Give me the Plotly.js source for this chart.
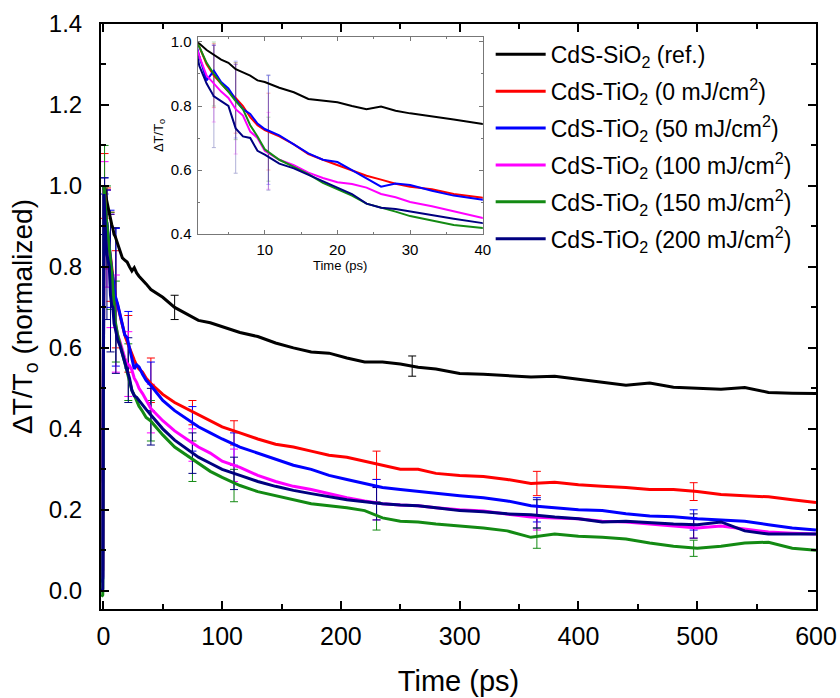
<!DOCTYPE html>
<html>
<head>
<meta charset="utf-8">
<script src="https://cdn.plot.ly/plotly-3.0.1.min.js"></script>
<style>html,body{margin:0;padding:0;background:#fff;}#chart{width:840px;height:698px;}</style>
</head>
<body>
<div id="chart"></div>
<script>
// ---------------- DATA ----------------
const seriesNames = [
  'CdS-SiO<sub>2</sub> (ref.)',
  'CdS-TiO<sub>2</sub> (0 mJ/cm<sup>2</sup>)',
  'CdS-TiO<sub>2</sub> (50 mJ/cm<sup>2</sup>)',
  'CdS-TiO<sub>2</sub> (100 mJ/cm<sup>2</sup>)',
  'CdS-TiO<sub>2</sub> (150 mJ/cm<sup>2</sup>)',
  'CdS-TiO<sub>2</sub> (200 mJ/cm<sup>2</sup>)'
];
const seriesColors = ['#000000', '#ff0000', '#0000ff', '#ff00ff', '#138a13', '#000080'];

const time = [-1.5, -0.5, 0.5, 1, 2, 3, 4, 5, 6, 7, 8, 9, 10, 12, 14, 16, 18, 20, 22, 24, 26, 28, 30, 33, 36, 40,
  50, 60, 70, 80, 90, 100, 115, 130, 145, 160, 175, 190, 205, 220, 235, 250, 265, 280, 300, 320, 340, 360, 380,
  400, 420, 440, 460, 480, 500, 520, 540, 560, 580, 600];

const sio2Ref = [0.27, 0.27, 1.0, 0.995, 0.975, 0.96, 0.945, 0.935, 0.915, 0.905, 0.895, 0.88, 0.875, 0.857, 0.843, 0.822, 0.817, 0.812, 0.80, 0.79, 0.798, 0.785, 0.777, 0.768, 0.758, 0.744,
  0.725, 0.70, 0.685, 0.668, 0.662, 0.652, 0.638, 0.628, 0.612, 0.60, 0.59, 0.587, 0.575, 0.565, 0.565, 0.56, 0.552, 0.548, 0.537, 0.535, 0.532, 0.528, 0.53,
  0.522, 0.515, 0.508, 0.513, 0.503, 0.50, 0.498, 0.502, 0.49, 0.488, 0.487];

const tio2_0 = [0.06, 0.05, 1.0, 0.985, 0.93, 0.895, 0.87, 0.845, 0.825, 0.80, 0.765, 0.74, 0.725, 0.705, 0.68, 0.65, 0.632, 0.615, 0.60, 0.582, 0.57, 0.557, 0.548, 0.54, 0.525, 0.512,
  0.485, 0.465, 0.45, 0.435, 0.42, 0.405, 0.39, 0.375, 0.362, 0.355, 0.345, 0.335, 0.33, 0.32, 0.31, 0.30, 0.30, 0.29, 0.285, 0.282, 0.275, 0.265, 0.268,
  0.262, 0.258, 0.255, 0.25, 0.25, 0.245, 0.238, 0.235, 0.232, 0.225, 0.218];

const tio2_50 = [0.02, 0.03, 1.0, 0.955, 0.88, 0.91, 0.875, 0.855, 0.82, 0.79, 0.775, 0.745, 0.728, 0.708, 0.68, 0.652, 0.632, 0.625, 0.60, 0.575, 0.548, 0.558, 0.553, 0.535, 0.52, 0.507,
  0.47, 0.445, 0.425, 0.405, 0.39, 0.375, 0.355, 0.34, 0.325, 0.31, 0.30, 0.285, 0.275, 0.265, 0.255, 0.25, 0.245, 0.24, 0.235, 0.23, 0.222, 0.21, 0.205,
  0.20, 0.198, 0.19, 0.185, 0.183, 0.178, 0.175, 0.172, 0.163, 0.155, 0.15];

const tio2_100 = [0.03, 0.035, 0.99, 0.955, 0.895, 0.87, 0.845, 0.825, 0.79, 0.77, 0.72, 0.70, 0.66, 0.632, 0.615, 0.592, 0.575, 0.562, 0.556, 0.545, 0.525, 0.515, 0.50, 0.487, 0.472, 0.45,
  0.42, 0.395, 0.375, 0.355, 0.34, 0.32, 0.305, 0.285, 0.27, 0.258, 0.25, 0.24, 0.23, 0.222, 0.215, 0.212, 0.21, 0.205, 0.20, 0.197, 0.19, 0.182, 0.18,
  0.178, 0.172, 0.17, 0.165, 0.16, 0.155, 0.16, 0.152, 0.145, 0.142, 0.14];

const tio2_150 = [-0.015, -0.01, 1.0, 0.985, 0.935, 0.90, 0.87, 0.845, 0.815, 0.79, 0.74, 0.705, 0.665, 0.632, 0.61, 0.587, 0.56, 0.54, 0.52, 0.495, 0.483, 0.47, 0.456, 0.443, 0.428, 0.419,
  0.385, 0.355, 0.335, 0.315, 0.295, 0.28, 0.26, 0.245, 0.235, 0.225, 0.215, 0.21, 0.205, 0.198, 0.18, 0.172, 0.17, 0.165, 0.16, 0.155, 0.148, 0.132, 0.14,
  0.135, 0.132, 0.128, 0.118, 0.11, 0.105, 0.11, 0.118, 0.12, 0.105, 0.10];

const tio2_200 = [0.0, 0.005, 0.98, 0.925, 0.87, 0.83, 0.815, 0.80, 0.73, 0.705, 0.70, 0.66, 0.648, 0.62, 0.605, 0.585, 0.565, 0.545, 0.525, 0.495, 0.482, 0.478, 0.47, 0.458, 0.448, 0.434,
  0.40, 0.372, 0.35, 0.33, 0.315, 0.30, 0.285, 0.27, 0.258, 0.248, 0.24, 0.232, 0.225, 0.22, 0.215, 0.212, 0.21, 0.205, 0.198, 0.195, 0.19, 0.188, 0.182,
  0.178, 0.17, 0.172, 0.168, 0.165, 0.163, 0.17, 0.148, 0.14, 0.14, 0.14];

// error bars (time, centre value, half-width)
const errTimeRef = [60, 260];
const errValRef  = [0.70, 0.555];
const errSizeRef = [0.03, 0.025];

const errTime = [1, 3, 6, 10.5, 21, 40, 75, 110, 230, 365, 497];
const errVal_0   = [1.0, 0.895, 0.825, 0.72, 0.61, 0.52, 0.44, 0.39, 0.31, 0.265, 0.245];
const errSize_0  = [0.08, 0.10, 0.11, 0.12, 0.07, 0.055, 0.03, 0.03, 0.035, 0.03, 0.022];
const errVal_50  = [1.0, 0.91, 0.82, 0.725, 0.62, 0.505, 0.40, 0.35, 0.245, 0.20, 0.175];
const errSize_50 = [0.02, 0.08, 0.12, 0.17, 0.07, 0.06, 0.055, 0.04, 0.03, 0.03, 0.025];
const errVal_100  = [0.98, 0.87, 0.79, 0.66, 0.56, 0.45, 0.36, 0.31, 0.215, 0.18, 0.155];
const errSize_100 = [0.08, 0.12, 0.14, 0.12, 0.08, 0.06, 0.04, 0.04, 0.04, 0.03, 0.025];
const errVal_150  = [1.0, 0.90, 0.815, 0.665, 0.54, 0.42, 0.32, 0.26, 0.185, 0.13, 0.105];
const errSize_150 = [0.10, 0.10, 0.12, 0.10, 0.07, 0.05, 0.05, 0.04, 0.035, 0.025, 0.02];
const errVal_200  = [0.95, 0.83, 0.76, 0.717, 0.545, 0.43, 0.34, 0.29, 0.215, 0.19, 0.16];
const errSize_200 = [0.07, 0.16, 0.17, 0.18, 0.08, 0.07, 0.05, 0.04, 0.04, 0.035, 0.03];

// ---------------- BUILD ----------------
const seriesValues = [sio2Ref, tio2_0, tio2_50, tio2_100, tio2_150, tio2_200];
const errSets = [
  [errTimeRef, errValRef, errSizeRef],
  [errTime, errVal_0, errSize_0],
  [errTime, errVal_50, errSize_50],
  [errTime, errVal_100, errSize_100],
  [errTime, errVal_150, errSize_150],
  [errTime, errVal_200, errSize_200]
];

const traces = [];
errSets.forEach((es, i) => {
  traces.push({
    x: es[0], y: es[1], type: 'scatter', mode: 'markers', xaxis: 'x', yaxis: 'y',
    marker: {size: 1, opacity: 0, color: seriesColors[i]},
    error_y: {type: 'data', array: es[2], visible: true, color: seriesColors[i], thickness: 1, width: 4},
    showlegend: false, hoverinfo: 'skip', legendgroup: 'g' + i
  });
});
seriesValues.forEach((vals, i) => {
  traces.push({
    x: time, y: vals, type: 'scatter', mode: 'lines', xaxis: 'x', yaxis: 'y',
    name: seriesNames[i], line: {color: seriesColors[i], width: 3},
    legendgroup: 'g' + i
  });
});
errSets.forEach((es, i) => {
  if (i === 0) return;
  const idx = es[0].map((t, k) => k).filter(k => es[0][k] <= 12 && es[0][k] >= 2);
  traces.push({
    x: idx.map(k => es[0][k]), y: idx.map(k => es[1][k]), type: 'scatter', mode: 'markers', xaxis: 'x2', yaxis: 'y2',
    marker: {size: 1, opacity: 0, color: seriesColors[i]},
    error_y: {type: 'data', array: idx.map(k => es[2][k]), visible: true, color: seriesColors[i], thickness: 1, width: 2},
    opacity: 0.3, showlegend: false, hoverinfo: 'skip', legendgroup: 'g' + i
  });
});
seriesValues.forEach((vals, i) => {
  traces.push({
    x: time, y: vals, type: 'scatter', mode: 'lines', xaxis: 'x2', yaxis: 'y2',
    line: {color: seriesColors[i], width: 2}, showlegend: false, hoverinfo: 'skip', legendgroup: 'g' + i
  });
});

const FONT = 'Liberation Sans, Arial, Helvetica, sans-serif';
const layout = {
  width: 840, height: 698,
  margin: {l: 101, r: 24, t: 24, b: 89},
  paper_bgcolor: '#ffffff', plot_bgcolor: '#ffffff',
  font: {family: FONT, color: '#000'},
  showlegend: true,
  legend: {x: 0.545, y: 0.985, xanchor: 'left', yanchor: 'top', font: {size: 23, family: FONT},
           bgcolor: 'rgba(0,0,0,0)', itemwidth: 50, tracegroupgap: 4, traceorder: 'grouped'},
  xaxis: {
    domain: [0, 1], range: [-2, 600], anchor: 'y',
    showline: true, linewidth: 2, linecolor: '#000', mirror: 'ticks',
    ticks: 'inside', ticklen: 8, tickwidth: 2, tickcolor: '#000', tick0: 0, dtick: 100,
    minor: {ticks: 'inside', ticklen: 5, tickwidth: 2, tickcolor: '#000', dtick: 50, showgrid: false},
    showgrid: false, zeroline: false, tickfont: {size: 25}, ticklabelstandoff: 4,
    title: {text: 'Time (ps)', font: {size: 29}, standoff: 22}
  },
  yaxis: {
    domain: [0, 1], range: [-0.045, 1.4], anchor: 'x',
    showline: true, linewidth: 2, linecolor: '#000', mirror: 'ticks',
    ticks: 'inside', ticklen: 8, tickwidth: 2, tickcolor: '#000', tick0: 0, dtick: 0.2, tickformat: '.1f',
    minor: {ticks: 'inside', ticklen: 5, tickwidth: 2, tickcolor: '#000', dtick: 0.1, showgrid: false},
    showgrid: false, zeroline: false, tickfont: {size: 24}, ticklabelstandoff: 12,
    title: {text: 'ΔT/T<sub>o</sub> (normalized)', font: {size: 28}, standoff: 8}
  },
  xaxis2: {
    domain: [0.135, 0.534], range: [0.75, 40], anchor: 'y2',
    showline: true, linewidth: 1, linecolor: '#777', mirror: 'ticks',
    ticks: 'inside', ticklen: 4, tickwidth: 1, tickcolor: '#777', tick0: 0, dtick: 10,
    minor: {ticks: 'inside', ticklen: 2, tickwidth: 1, tickcolor: '#777', dtick: 5, showgrid: false},
    showgrid: false, zeroline: false, tickfont: {size: 15}, ticklabelstandoff: 2,
    title: {text: 'Time (ps)', font: {size: 13}, standoff: 2}
  },
  yaxis2: {
    domain: [0.641, 0.978], range: [0.4, 1.016], anchor: 'x2',
    showline: true, linewidth: 1, linecolor: '#777', mirror: 'ticks',
    ticks: 'inside', ticklen: 4, tickwidth: 1, tickcolor: '#777', tick0: 0, dtick: 0.2, tickformat: '.1f',
    minor: {ticks: 'inside', ticklen: 2, tickwidth: 1, tickcolor: '#777', dtick: 0.1, showgrid: false},
    showgrid: false, zeroline: false, tickfont: {size: 15}, ticklabelstandoff: 2,
    title: {text: 'ΔT/T<sub>o</sub>', font: {size: 13}, standoff: 4}
  }
};

Plotly.newPlot('chart', traces, layout, {staticPlot: true, displayModeBar: false});
</script>
</body>
</html>
